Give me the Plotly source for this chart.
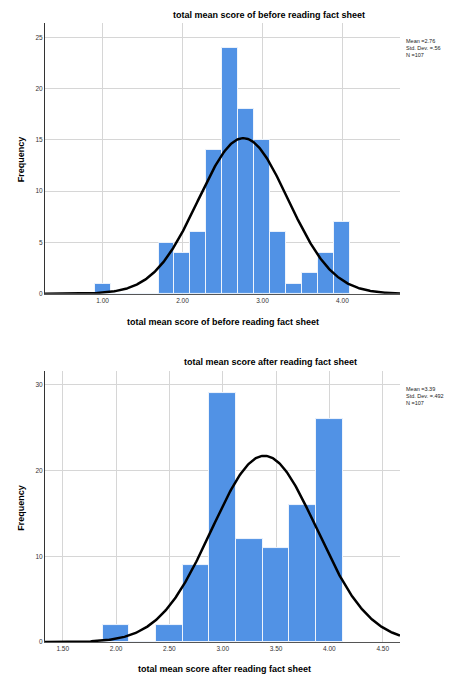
import numpy as np
import plotly.graph_objects as go

# ---------------- data ----------------
before_bin_centers = [1.00, 1.20, 1.40, 1.60, 1.80, 1.99, 2.19, 2.39, 2.59, 2.79,
                      2.99, 3.19, 3.39, 3.59, 3.79, 3.99]
before_counts = [1, 0, 0, 0, 5, 4, 6, 14, 24, 18, 15, 6, 1, 2, 4, 7]
before_bin_width = 0.199
before_mean, before_sd, before_n = 2.76, 0.56, 107

after_bin_centers = [2.00, 2.25, 2.50, 2.75, 3.00, 3.25, 3.50, 3.75, 4.00]
after_counts = [2, 0, 2, 9, 29, 12, 11, 16, 26]
after_bin_width = 0.25
after_mean, after_sd, after_n = 3.39, 0.492, 107

before_xticks = [1.0, 2.0, 3.0, 4.0]
before_xticklabels = ["1.00", "2.00", "3.00", "4.00"]
before_yticks = [0, 5, 10, 15, 20, 25]
after_xticks = [1.5, 2.0, 2.5, 3.0, 3.5, 4.0, 4.5]
after_xticklabels = ["1.50", "2.00", "2.50", "3.00", "3.50", "4.00", "4.50"]
after_yticks = [0, 10, 20, 30]

title_before = "total mean score of before reading fact sheet"
title_after = "total mean score after reading fact sheet"
legend_before = "Mean =2.76<br>Std. Dev. =.56<br>N =107"
legend_after = "Mean =3.39<br>Std. Dev. =.492<br>N =107"

# ---------------- layout constants ----------------
OFF = 8  # default body margin of the html page
W, H = 460 - OFF, 680 - OFF
BAR = "#5192E5"
FONT = "Liberation Sans, Arial, sans-serif"
GRID = "#d6d6d6"


def px_x(p):
    return (p - OFF) / W


def px_y(p):
    return 1 - (p - OFF) / H


def normal_curve(mean, sd, n, bw, lo, hi):
    xs = np.linspace(lo, hi, 400)
    ys = n * bw / (sd * np.sqrt(2 * np.pi)) * np.exp(-0.5 * ((xs - mean) / sd) ** 2)
    return xs, ys


fig = go.Figure()

top_xr = [0.28, 4.72]
bot_xr = [1.334, 4.662]

fig.add_trace(go.Bar(x=before_bin_centers, y=before_counts, width=before_bin_width,
                     marker=dict(color=BAR, line=dict(color="#eef4fc", width=1)),
                     xaxis="x", yaxis="y", showlegend=False))
cx, cy = normal_curve(before_mean, before_sd, before_n, before_bin_width, *top_xr)
fig.add_trace(go.Scatter(x=cx, y=cy, mode="lines", line=dict(color="black", width=2.5),
                         xaxis="x", yaxis="y", showlegend=False))

fig.add_trace(go.Bar(x=after_bin_centers, y=after_counts, width=after_bin_width,
                     marker=dict(color=BAR, line=dict(color="#eef4fc", width=1)),
                     xaxis="x2", yaxis="y2", showlegend=False))
cx2, cy2 = normal_curve(after_mean, after_sd, after_n, after_bin_width, *bot_xr)
fig.add_trace(go.Scatter(x=cx2, y=cy2, mode="lines", line=dict(color="black", width=2.5),
                         xaxis="x2", yaxis="y2", showlegend=False))

xdom = [px_x(45), px_x(400)]
tickfont = dict(family=FONT, size=6.5, color="#333333")

common_x = dict(showgrid=True, gridcolor=GRID, gridwidth=1, zeroline=False,
                showline=True, linecolor="#555555", linewidth=1, ticks="",
                tickfont=tickfont, fixedrange=True)
common_y = dict(showgrid=True, gridcolor=GRID, gridwidth=1, zeroline=False,
                showline=True, linecolor="#333333", linewidth=1, ticks="",
                tickfont=tickfont, fixedrange=True)

fig.update_layout(
    width=W, height=H,
    margin=dict(l=0, r=0, t=0, b=0),
    paper_bgcolor="white", plot_bgcolor="white",
    bargap=0,
    xaxis=dict(domain=xdom, range=top_xr, tickvals=before_xticks,
               ticktext=before_xticklabels, anchor="y", **common_x),
    yaxis=dict(domain=[px_y(295), px_y(23)], range=[0, 26.4], tickvals=before_yticks,
               anchor="x", **common_y),
    xaxis2=dict(domain=xdom, range=bot_xr, tickvals=after_xticks,
                ticktext=after_xticklabels, anchor="y2", **common_x),
    yaxis2=dict(domain=[px_y(645), px_y(372.7)], range=[0, 31.55], tickvals=after_yticks,
                anchor="x2", **common_y),
)

bold = dict(family=FONT, size=9, color="black")
ann = []
ann.append(dict(text="<b>%s</b>" % title_before, x=px_x(269), y=px_y(15), xref="paper",
                yref="paper", showarrow=False, font=bold, xanchor="center", yanchor="middle"))
ann.append(dict(text="<b>%s</b>" % title_before, x=px_x(223), y=px_y(323), xref="paper",
                yref="paper", showarrow=False, font=bold, xanchor="center", yanchor="middle"))
ann.append(dict(text="<b>Frequency</b>", x=px_x(21), y=px_y(160), xref="paper",
                yref="paper", showarrow=False, font=bold, textangle=-90,
                xanchor="center", yanchor="middle"))
ann.append(dict(text="<b>%s</b>" % title_after, x=px_x(270), y=px_y(364), xref="paper",
                yref="paper", showarrow=False, font=bold, xanchor="center", yanchor="middle"))
ann.append(dict(text="<b>%s</b>" % title_after, x=px_x(224), y=px_y(672), xref="paper",
                yref="paper", showarrow=False, font=bold, xanchor="center", yanchor="middle"))
ann.append(dict(text="<b>Frequency</b>", x=px_x(21), y=px_y(510), xref="paper",
                yref="paper", showarrow=False, font=bold, textangle=-90,
                xanchor="center", yanchor="middle"))
small = dict(family=FONT, size=5.5, color="#222222")
ann.append(dict(text=legend_before, x=px_x(404), y=px_y(36), xref="paper", yref="paper",
                showarrow=False, font=small, xanchor="left", yanchor="top", align="left"))
ann.append(dict(text=legend_after, x=px_x(404), y=px_y(386), xref="paper", yref="paper",
                showarrow=False, font=small, xanchor="left", yanchor="top", align="left"))
fig.update_layout(annotations=ann)

fig.write_html("out.html")
